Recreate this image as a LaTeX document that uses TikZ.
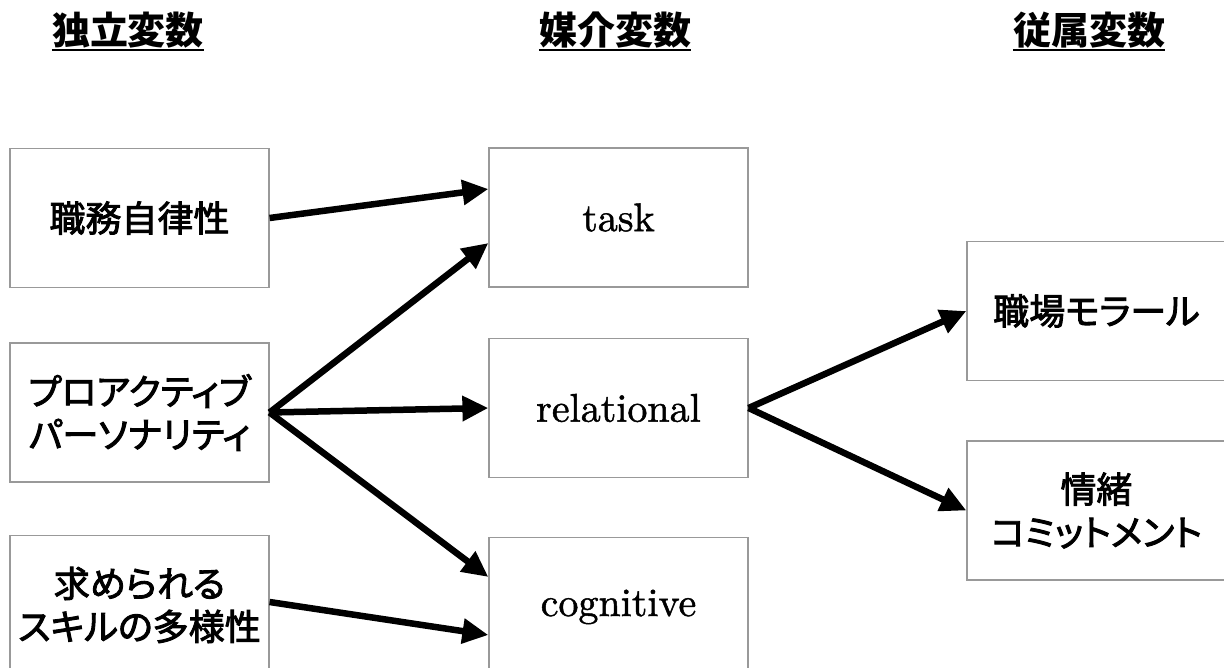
\documentclass[tikz,border=0pt]{standalone}
\usepackage{fontspec}
\newfontfamily\jp[RawFeature=+palt]{Noto Sans CJK JP}
\newfontfamily\jpbox[RawFeature=+palt,RawFeature={embolden=2.5}]{Noto Sans CJK JP}
\newfontfamily\latbox[Extension=.otf,FakeBold=1.2]{lmroman10-regular}
\usetikzlibrary{arrows.meta}

\begin{document}
\begin{tikzpicture}[x=1pt,y=-1pt,
    box/.style={draw=gray!80,line width=1.2pt,minimum width=259pt,
      minimum height=139pt,align=center,
      font=\jpbox\fontsize{36}{43}\selectfont},
    latin/.style={font=\latbox\bfseries\fontsize{40}{43}\selectfont},
    headline/.style={font=\jp\bfseries\fontsize{38}{40}\selectfont,inner sep=0pt},
    flow/.style={line width=6.5pt,-{Triangle[length=26pt,width=24pt]}}]
    \useasboundingbox (0,0) rectangle (1224,668); \clip (0,0) rectangle
    (1224,668);
    % headings
    \node[headline] (hind) at (128,30) {独立変数};
    \node[headline] (hmed) at (615,30) {媒介変数};
    \node[headline] (hdep) at (1089,30) {従属変数};
    \foreach\h in{hind,hmed,hdep}{
      \draw[line width=2pt] (\h.west|-0,50) -- (\h.east|-0,50);};
    % boxes
    \node[box] (ind1) at (139.5,218) {職務自律性};
    \node[box] (ind2) at (139.5,412.5) {プロアクティブ\\パーソナリティ};
    \node[box] (ind3) at (139.5,605) {求められる\\スキルの多様性};
    \node[box,latin] (task) at (618.5,217.5) {task};
    \node[box,latin] (rel) at (618.5,408) {relational};
    \node[box,latin] (cog) at (618.5,607) {cognitive};
    \node[box] (mor) at (1096.5,311) {職場モラール};
    \node[box] (com) at (1096.5,510.5) {情緒\\コミットメント};
    % arrows
    \draw[flow] (ind1.east) -- ([yshift=28.5pt]task.west);
    \foreach\n/\s in{task/-25.5,rel/0,cog/30}{
      \draw[flow] (ind2.east) -- ([yshift=\s pt]\n.west);};
    \draw[flow] ([yshift=3pt]ind3.east) -- ([yshift=-28pt]cog.west);
    \draw[flow] (rel.east) -- (mor.west); \draw[flow] (rel.east) --
    (com.west);
  \end{tikzpicture}
\end{document}
